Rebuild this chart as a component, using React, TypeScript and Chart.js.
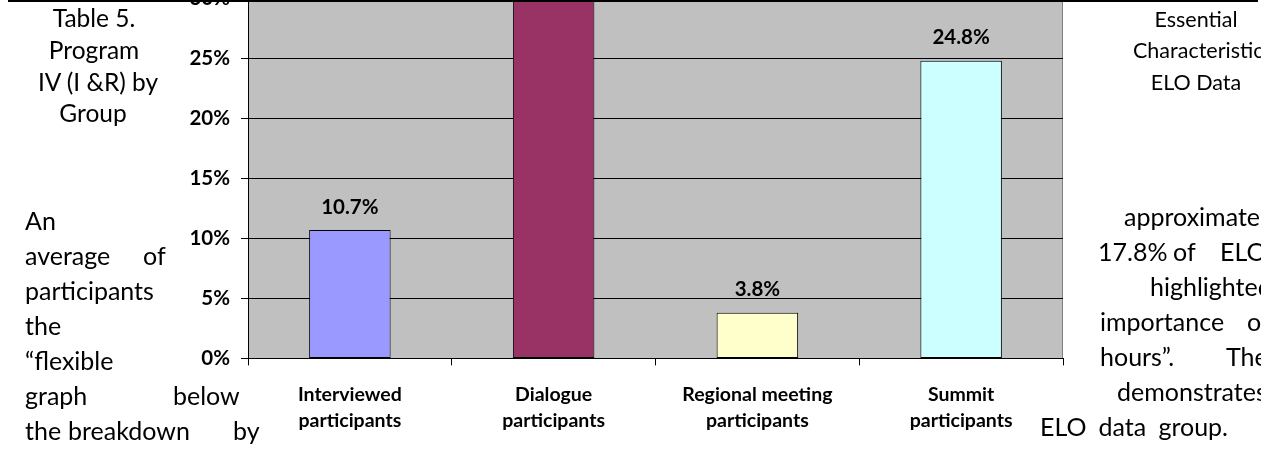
import { useEffect, useRef } from 'react';
import { Chart, registerables } from 'chart.js';

Chart.register(...registerables);

// Share of ELO participants naming "flexible hours", by group
const categories: string[][] = [
  ['Interviewed', 'participants'],
  ['Dialogue', 'participants'],
  ['Regional meeting', 'participants'],
  ['Summit', 'participants'],
];
const shares = [10.7, 31.9, 3.8, 24.8];
const barColors = ['#9999FF', '#993366', '#FFFFCC', '#CCFFFF'];
const yMin = 0;
const yMax = 30;
const yStep = 5;

// Caption cells beside the chart: [line, x, baseline y, size, align]
const captionLines: [string, number, number, number, 'center' | 'left'][] = [
  ['Table 5.', 94, 28, 24.5, 'center'],
  ['Program', 94, 60, 24.5, 'center'],
  ['IV (I &R) by', 98, 92, 24.5, 'center'],
  ['Group', 93, 123, 24.5, 'center'],
  ['Essential', 1196, 28, 21.5, 'center'],
  ['Characteristics', 1133, 59, 21.5, 'left'],
  ['ELO Data', 1196, 91, 21.5, 'center'],
];

// Wrapped body text around the chart: [word, left x, baseline y]
const bodyWords: [string, number, number][] = [
  ['An', 25, 230],
  ['average', 25, 265],
  ['of', 143, 265],
  ['participants', 25, 300],
  ['the', 25, 335],
  ['\u201Cflexible', 25, 370],
  ['graph', 25, 405],
  ['below', 173, 405],
  ['the', 25, 440],
  ['breakdown', 68, 440],
  ['by', 233, 440],
  ['approximately', 1124, 226],
  ['17.8%', 1098, 261],
  ['of', 1173, 261],
  ['ELO', 1220, 261],
  ['highlighted', 1150, 296],
  ['importance', 1100, 331],
  ['of', 1247, 331],
  ['hours\u201D.', 1100, 366],
  ['The', 1226, 366],
  ['demonstrates', 1117, 401],
];

// Last line, spread across its full width: [text, left x, right x, baseline y]
const justifiedLines: [string, number, number, number][] = [['ELO data group.', 1040, 1228, 436]];

const PAGE_W = 1261;
const PAGE_H = 456;
const OVERHANG = 40; // canvas starts above the visible page
const BODY_FONT = 25;

const plotFrame = {
  id: 'plotFrame',
  beforeDraw(chart: any) {
    const { ctx, chartArea: a } = chart;
    ctx.save();
    ctx.fillStyle = '#C0C0C0';
    ctx.fillRect(a.left, a.top, a.right - a.left, a.bottom - a.top);
    ctx.strokeStyle = '#808080';
    ctx.lineWidth = 1;
    ctx.beginPath();
    ctx.moveTo(Math.round(a.right) - 0.5, a.top);
    ctx.lineTo(Math.round(a.right) - 0.5, a.bottom);
    ctx.stroke();
    ctx.restore();
  },
};

const valueLabels = {
  id: 'valueLabels',
  afterDatasetsDraw(chart: any) {
    const { ctx } = chart;
    const meta = chart.getDatasetMeta(0);
    ctx.save();
    ctx.font = 'bold 20.5px Lato';
    ctx.fillStyle = '#000';
    ctx.textAlign = 'center';
    ctx.textBaseline = 'middle';
    meta.data.forEach((bar: any, i: number) => {
      ctx.fillText(shares[i].toFixed(1) + '%', bar.x, bar.y - 23);
    });
    ctx.restore();
  },
};

const textStyle = (size: number, base: number): any => ({
  position: 'absolute',
  top: base - size * 0.887,
  fontFamily: 'Lato',
  fontSize: size,
  lineHeight: 1,
  whiteSpace: 'pre',
  color: '#000',
});

export default function App() {
  const canvasRef = useRef<HTMLCanvasElement>(null);

  useEffect(() => {
    const canvas = canvasRef.current!;
    const chart = new Chart(canvas, {
      type: 'bar',
      data: {
        labels: categories,
        datasets: [
          {
            data: shares,
            backgroundColor: barColors,
            borderColor: '#000',
            borderWidth: 1,
            borderSkipped: false,
            barPercentage: 0.4,
            categoryPercentage: 1,
          },
        ],
      },
      options: {
        responsive: false,
        animation: false,
        devicePixelRatio: 1,
        layout: { padding: { left: 188, right: 198, top: 38.4, bottom: 0 } },
        plugins: { legend: { display: false }, tooltip: { enabled: false } },
        scales: {
          x: {
            afterFit: (s: any) => {
              s.height = PAGE_H + OVERHANG - 398.4;
            },
            grid: {
              offset: true,
              drawOnChartArea: false,
              drawTicks: true,
              tickLength: 7,
              color: '#000',
            },
            border: { display: true, color: '#000', width: 1 },
            ticks: {
              color: '#000',
              font: { family: 'Lato', weight: 'bold', size: 19.5, lineHeight: 26 / 19.5 },
              padding: 16,
              maxRotation: 0,
              autoSkip: false,
            },
          },
          y: {
            min: yMin,
            max: yMax,
            afterFit: (s: any) => {
              s.width = 60;
            },
            grid: { color: '#000', lineWidth: 1, tickLength: 7, drawTicks: true },
            border: { display: true, color: '#000', width: 1 },
            ticks: {
              stepSize: yStep,
              color: '#000',
              padding: 11,
              font: { family: 'Lato', weight: 'bold', size: 20.5 },
              callback: (v: any) => v + '%',
            },
          },
        },
      },
      plugins: [plotFrame, valueLabels],
    });
    return () => chart.destroy();
  }, []);

  return (
    <div
      style={{
        position: 'fixed',
        left: 0,
        top: 0,
        width: PAGE_W,
        height: PAGE_H,
        overflow: 'hidden',
        background: '#fff',
      }}
    >
      <canvas
        ref={canvasRef}
        width={PAGE_W}
        height={PAGE_H + OVERHANG}
        style={{ position: 'absolute', left: 0, top: -OVERHANG, width: PAGE_W, height: PAGE_H + OVERHANG }}
      />
      <div style={{ position: 'absolute', left: 8, top: 0, width: 1250, height: 2, background: '#000' }} />
      {captionLines.map(([t, x, base, size, align], i) => (
        <div
          key={'c' + i}
          style={{
            ...textStyle(size, base),
            left: x,
            transform: align === 'center' ? 'translateX(-50%)' : undefined,
          }}
        >
          {t}
        </div>
      ))}
      {bodyWords.map(([w, x, base], i) => (
        <div key={'b' + i} style={{ ...textStyle(BODY_FONT, base), left: x }}>
          {w}
        </div>
      ))}
      {justifiedLines.map(([t, x0, x1, base], i) => (
        <div
          key={'j' + i}
          style={{
            ...textStyle(BODY_FONT, base),
            left: x0,
            width: x1 - x0,
            whiteSpace: 'normal',
            textAlign: 'justify',
            textAlignLast: 'justify',
          }}
        >
          {t}
        </div>
      ))}
    </div>
  );
}
